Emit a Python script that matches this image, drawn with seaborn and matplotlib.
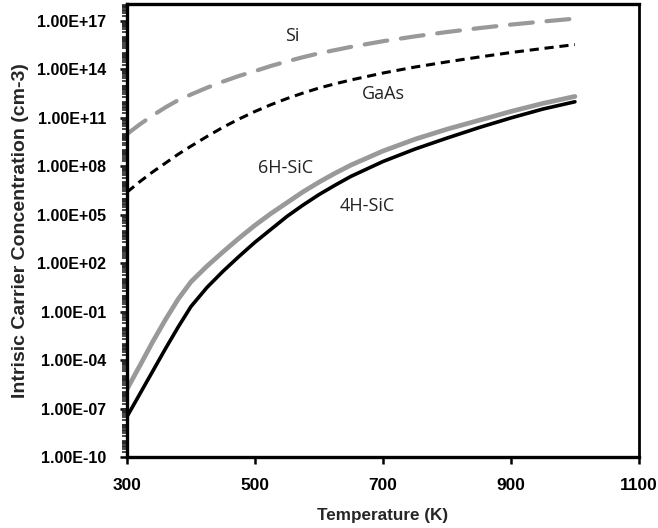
import seaborn as sns
import numpy as np
import pandas as pd
import matplotlib
matplotlib.use("Agg")
import matplotlib.pyplot as plt
import matplotlib.ticker as ticker

# temperature (K) and log10 of intrinsic carrier concentration (cm-3)
temps = [300, 320, 340, 360, 380, 400, 425, 450, 475, 500, 525, 550, 575,
         600, 625, 650, 700, 750, 800, 850, 900, 950, 1000]
log_si = [10.0, 10.6, 11.15, 11.65, 12.1, 12.45, 12.87, 13.25, 13.6, 13.9, 14.22, 14.5, 14.76,
          15.0, 15.2, 15.4, 15.75, 16.05, 16.32, 16.56, 16.78, 16.97, 17.15]
log_gaas = [6.4, 7.05, 7.65, 8.2, 8.75, 9.25, 9.85, 10.42, 10.93, 11.4, 11.82, 12.2, 12.54,
            12.85, 13.11, 13.35, 13.78, 14.15, 14.47, 14.77, 15.05, 15.3, 15.54]
log_6h = [-5.8, -4.35, -2.88, -1.5, -0.22, 0.85, 1.82, 2.7, 3.55, 4.35, 5.08, 5.75, 6.42,
          7.02, 7.57, 8.08, 8.95, 9.68, 10.3, 10.85, 11.4, 11.9, 12.33]
log_4h = [-7.5, -6.1, -4.7, -3.3, -1.95, -0.68, 0.5, 1.5, 2.42, 3.3, 4.1, 4.9, 5.6,
          6.25, 6.83, 7.38, 8.3, 9.07, 9.75, 10.4, 11.0, 11.55, 12.0]

labels = ["Si", "GaAs", "6H-SiC", "4H-SiC"]
label_pos = [(559, 16.1), (701, 12.5), (548, 7.92), (675, 5.57)]

x_ticks = [300, 500, 700, 900, 1100]
y_ticks = [1e-10, 1e-7, 1e-4, 1e-1, 1e2, 1e5, 1e8, 1e11, 1e14, 1e17]

df = pd.DataFrame({
    "T": temps * 4,
    "n": np.power(10.0, log_si + log_gaas + log_6h + log_4h),
    "material": [m for m in labels for _ in temps],
})

sns.set_style("white")
plt.rcParams["font.family"] = ["Liberation Sans", "DejaVu Sans"]

fig = plt.figure(figsize=(6.58, 5.28), dpi=100)
ax = fig.add_axes([0.193, 0.1345, 0.778, 0.8575])

gray = "#999999"
styles = {
    "Si": dict(color=gray, linewidth=3.0, linestyle=(0, (5.5, 3.3)), dash_capstyle="round"),
    "GaAs": dict(color="black", linewidth=2.2, linestyle=(0, (3.0, 1.9)), dash_capstyle="butt"),
    "6H-SiC": dict(color=gray, linewidth=3.4, linestyle="-"),
    "4H-SiC": dict(color="black", linewidth=2.6, linestyle="-"),
}
for m in ["6H-SiC", "4H-SiC", "GaAs", "Si"]:
    sns.lineplot(data=df[df["material"] == m], x="T", y="n", ax=ax, legend=False, **styles[m])

ax.set_yscale("log")
ax.set_xlim(300, 1100)
ax.set_ylim(1e-10, 1.1e18)
ax.set_xticks(x_ticks)
ax.set_yticks(y_ticks)
ax.yaxis.set_major_formatter(ticker.FuncFormatter(lambda v, p: f"{v:.2E}"))
ax.yaxis.set_minor_locator(ticker.LogLocator(base=10, subs=np.arange(1, 10), numticks=100))
ax.yaxis.set_minor_formatter(ticker.NullFormatter())

for s in ax.spines.values():
    s.set_color("black")
    s.set_linewidth(2.4)
ax.spines["right"].set_linewidth(2.0)

ax.tick_params(axis="both", which="major", direction="out", length=5, width=1.8,
               colors="black", left=True, bottom=True)
ax.tick_params(axis="y", which="minor", direction="out", length=3.5, width=1.2, left=True)
ax.tick_params(axis="y", labelsize=11.5, pad=10)
ax.tick_params(axis="x", labelsize=12.5, pad=10)
for t in ax.get_xticklabels() + ax.get_yticklabels():
    t.set_fontweight("bold")

ax.set_xlabel("Temperature (K)", fontsize=12.3, fontweight="bold", labelpad=11)
ax.set_ylabel("Intrisic Carrier Concentration (cm-3)", fontsize=14, fontweight="bold", labelpad=6)

for lab, (tx, ly) in zip(labels, label_pos):
    ax.text(tx, 10 ** ly, lab, fontsize=13, ha="center", va="center", color="#222222",
            family=["Open Sans", "DejaVu Sans"])

fig.savefig("out.png", dpi=100)
